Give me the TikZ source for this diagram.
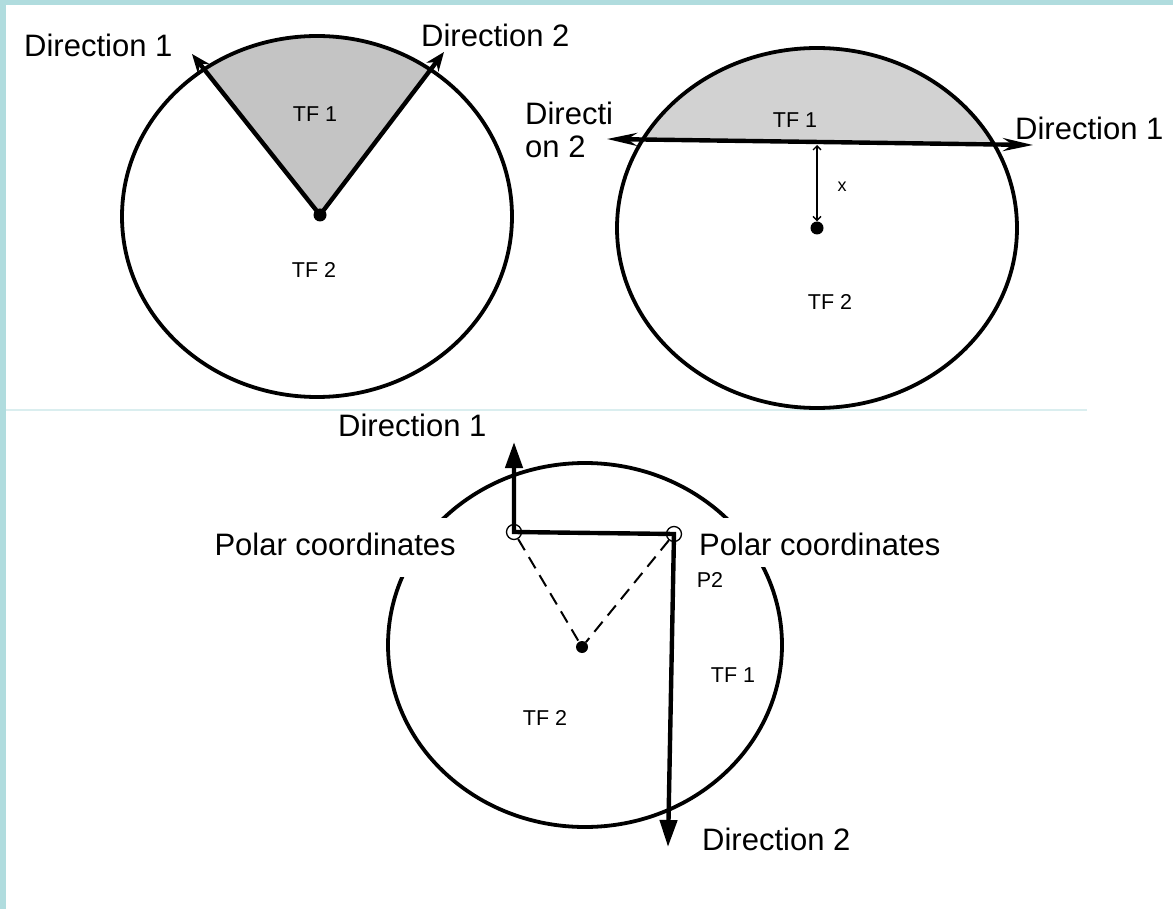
\documentclass[tikz,border=0pt]{standalone}
\usepackage{fontspec}
\setmainfont{Liberation Sans}
\usetikzlibrary{arrows.meta,calc}
\definecolor{framecol}{RGB}{176,220,222}
\definecolor{sepcol}{RGB}{218,238,239}
\definecolor{shadeA}{RGB}{196,196,196}
\definecolor{shadeB}{RGB}{210,210,210}
\begin{document}
\begin{tikzpicture}[x=1pt,y=-1pt,
  big/.style={font=\fontsize{31}{34}\selectfont, inner sep=0pt},
  small/.style={font=\fontsize{21.5}{24}\selectfont, inner sep=0pt},
  rim/.style={line width=3.8pt},
  ray/.style={line width=4.4pt},
  hub/.style={circle, fill=black, inner sep=0pt, minimum size=13pt},
  pole/.style={circle, draw, line width=1.3pt, inner sep=0pt, minimum size=15pt},
  mask/.style={fill=white, inner xsep=3pt, inner ysep=0pt},
  dashline/.style={line width=2pt, dash pattern=on 13pt off 8pt},
]
\useasboundingbox (0,0) rectangle (1173,909);
\fill[white] (0,0) rectangle (1173,909);
\fill[framecol] (0,0) rectangle (6,909);
\fill[framecol] (0,0) rectangle (1173,5);
\draw[sepcol, line width=1.2pt] (6,410) -- (1087,410);

% ---------- Panel 1 ----------
\coordinate (c1) at (317,216.5);
\coordinate (a1) at (205,70);
\coordinate (b1) at (433,67);
\coordinate (ta1) at (192,54);
\coordinate (tb1) at (444,52);
\coordinate (o1) at (320,215);
\begin{scope}
  \clip (c1) ellipse [x radius=195pt, y radius=180.5pt];
  \fill[shadeA] (o1) -- ($(o1)!1.6!(a1)$) -- ($(o1)!1.6!(b1)$) -- cycle;
\end{scope}
\draw[rim] (c1) ellipse [x radius=195pt, y radius=180.5pt];
\draw[ray, -{Stealth[length=19pt,width=15pt]}] (o1) -- (ta1);
\draw[ray, -{Stealth[length=19pt,width=15pt]}] (o1) -- (tb1);
\node[hub] (d1) at (o1) {};
\node[big, anchor=base west] (l1) at (24,57) {Direction 1};
\node[big, anchor=base west] (l2) at (421,47) {Direction 2};
\node[small] (t11) at (315,114) {TF 1};
\node[small] (t12) at (314,270) {TF 2};

% ---------- Panel 2 ----------
\coordinate (c2) at (817,228);
\begin{scope}
  \clip (c2) ellipse [x radius=200pt, y radius=180pt];
  \fill[shadeB] (600,139) -- (1040,145) -- (1040,0) -- (600,0) -- cycle;
\end{scope}
\draw[rim] (c2) ellipse [x radius=200pt, y radius=180pt];
\coordinate (w2) at (607,139);
\coordinate (e2) at (1033,145);
\draw[ray, {Stealth[length=30pt,width=13pt]}-{Stealth[length=30pt,width=13pt]}] (w2) -- (e2);
\node[hub, minimum size=13pt] (d2) at (817,228) {};
\coordinate (m2) at (817,145);
\draw[line width=1.3pt, {Straight Barb[length=4pt,width=8pt]}-{Straight Barb[length=4pt,width=8pt]}] (m2) -- (d2.north);
\node[big, anchor=base west] (l3) at (525,125) {Directi};
\node[big, anchor=base west] (l4) at (525,158) {on 2};
\node[big, anchor=base west] (l5) at (1015,140) {Direction 1};
\node[small] (t21) at (795,120) {TF 1};
\node[small] (t22) at (830,302) {TF 2};
\node[font=\fontsize{18}{20}\selectfont, inner sep=0pt] (xl) at (842,187) {x};

% ---------- Panel 3 ----------
\coordinate (c3) at (585,645);
\draw[rim] (c3) ellipse [x radius=197pt, y radius=182pt];
\node[big, mask, anchor=base east, text height=37pt, text depth=22pt] (pl) at (459,555) {Polar coordinates};
\node[big, mask, anchor=base west, text height=37pt, text depth=12pt] (pr) at (696,555) {Polar coordinates};
\node[pole] (p1) at (514,532) {};
\node[pole] (p2) at (674,534) {};
\node[hub, minimum size=12pt] (d3) at (582,647) {};
\coordinate (u3) at (514,442);
\coordinate (v3) at (668,847);
\draw[ray, line join=miter, {Triangle[length=26pt,width=17pt]}-{Triangle[length=27pt,width=17pt]}] (u3) -- (p1.center) -- (p2.center) -- (v3);
\draw[dashline] (p1) -- (d3);
\draw[dashline] (p2) -- (d3);
\node[big, anchor=base west] (l6) at (338,436) {Direction 1};
\node[big, anchor=base west] (l7) at (702,850) {Direction 2};
\node[small] (t3p) at (710,580) {P2};
\node[small] (t31) at (733,675) {TF 1};
\node[small] (t32) at (545,718) {TF 2};
\end{tikzpicture}
\end{document}
